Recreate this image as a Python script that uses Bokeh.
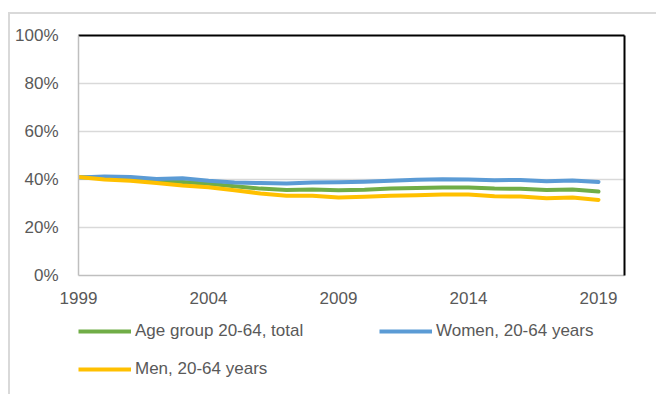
from bokeh.plotting import figure
from bokeh.layouts import column
from bokeh.models import Range1d, FixedTicker, NumeralTickFormatter, Legend, LegendItem, LinearAxis
from bokeh.embed import file_html
from bokeh.resources import INLINE

years = list(range(1999, 2020))
total = [41.0, 40.5, 40.0, 39.5, 39.0, 38.2, 37.2, 36.2, 35.6, 35.8, 35.5, 35.7, 36.2, 36.5, 36.7, 36.7, 36.2, 36.1, 35.6, 35.8, 35.0]
women = [40.8, 41.2, 41.0, 40.2, 40.5, 39.5, 38.8, 38.5, 38.3, 38.8, 38.9, 39.1, 39.5, 39.9, 40.1, 40.0, 39.7, 39.8, 39.3, 39.6, 39.0]
men = [41.0, 40.0, 39.5, 38.5, 37.5, 36.8, 35.5, 34.2, 33.2, 33.2, 32.5, 32.8, 33.2, 33.4, 33.7, 33.7, 33.0, 32.9, 32.2, 32.5, 31.5]
labels = ["Age group 20-64, total", "Women, 20-64 years", "Men, 20-64 years"]
colors = ["#70AD47", "#5B9BD5", "#FFC000"]
x_ticks = [1999, 2004, 2009, 2014, 2019]
y_ticks = [0, 0.2, 0.4, 0.6, 0.8, 1.0]

FONT = "Liberation Sans"
TXT = "#595959"
FS = "17px"

p = figure(frame_width=546, frame_height=240, output_backend="svg", toolbar_location=None,
           x_range=Range1d(1999, 2020), y_range=Range1d(0, 1.0),
           min_border_left=68, min_border_right=32, min_border_top=21, min_border_bottom=40)
p.outline_line_color = None
p.background_fill_color = "white"
p.border_fill_color = "white"

series = [total, women, men]
for vals, c in zip(series, colors):
    p.line(years, [v / 100 for v in vals], line_color=c, line_width=4, line_join="round", line_cap="round")

p.xgrid.grid_line_color = None
p.ygrid.grid_line_color = "#D9D9D9"
p.ygrid.grid_line_width = 1.5
p.ygrid.ticker = FixedTicker(ticks=y_ticks)

p.xaxis.ticker = FixedTicker(ticks=x_ticks)
p.yaxis.ticker = FixedTicker(ticks=y_ticks)
p.yaxis.formatter = NumeralTickFormatter(format="0%")
for ax in (p.xaxis[0], p.yaxis[0]):
    ax.axis_line_color = "#BFBFBF"
    ax.axis_line_width = 1.5
    ax.major_tick_line_color = None
    ax.minor_tick_line_color = None
    ax.major_label_text_font = FONT
    ax.major_label_text_font_size = FS
    ax.major_label_text_color = TXT
p.yaxis.major_label_standoff = 14
p.xaxis.major_label_standoff = 10

for side in ("above", "right"):
    a = LinearAxis(major_tick_line_color=None, minor_tick_line_color=None,
                   major_label_text_font_size="0px", axis_line_color="black", axis_line_width=2)
    a.ticker = FixedTicker(ticks=[])
    p.add_layout(a, side)

# legend strip below the chart (same series, kept out of view; only the legend shows)
p2 = figure(width=646, height=79, output_backend="svg", toolbar_location=None,
            x_axis_type=None, y_axis_type=None,
            x_range=Range1d(1999, 2020), y_range=Range1d(2, 3),
            min_border_left=0, min_border_right=0, min_border_top=0, min_border_bottom=0)
p2.outline_line_color = None
p2.xgrid.grid_line_color = None
p2.ygrid.grid_line_color = None
rends = []
for vals, c in zip(series, colors):
    r = p2.line(years, [v / 100 for v in vals], line_color=c, line_width=4)
    rends.append(r)

legend = Legend(items=[LegendItem(label=l, renderers=[r]) for l, r in zip(labels, rends)],
                orientation="horizontal", ncols=2, location=(0, 15),
                padding=0, margin=0, border_line_color=None, background_fill_alpha=0,
                glyph_width=53, glyph_height=20, label_height=20, label_standoff=4,
                label_width=226, spacing=18,
                label_text_font=FONT, label_text_font_size=FS, label_text_color=TXT)
p2.add_layout(legend, "center")

lay = column(p, p2, spacing=0,
             styles={"border-top": "2px solid #D9D9D9", "border-left": "2px solid #D9D9D9",
                     "margin-left": "8px", "margin-top": "12px"})

open("out.html", "w").write(file_html(lay, INLINE))
